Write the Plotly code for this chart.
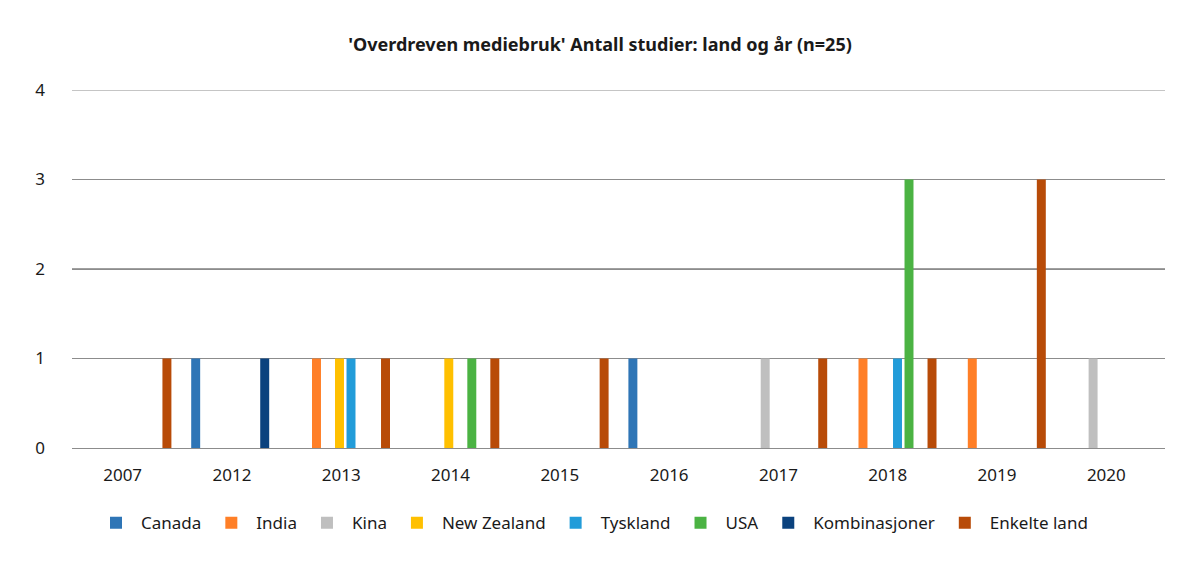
import plotly.graph_objects as go

years = ["2007", "2012", "2013", "2014", "2015", "2016", "2017", "2018", "2019", "2020"]

canada        = [0, 1, 0, 0, 0, 1, 0, 0, 0, 0]
india         = [0, 0, 1, 0, 0, 0, 0, 1, 1, 0]
kina          = [0, 0, 0, 0, 0, 0, 1, 0, 0, 1]
new_zealand   = [0, 0, 1, 1, 0, 0, 0, 0, 0, 0]
tyskland      = [0, 0, 1, 0, 0, 0, 0, 1, 0, 0]
usa           = [0, 0, 0, 1, 0, 0, 0, 3, 0, 0]
kombinasjoner = [0, 1, 0, 0, 0, 0, 0, 0, 0, 0]
enkelte_land  = [1, 0, 1, 1, 1, 0, 1, 1, 3, 0]

series = [
    ("Canada", canada, "#2E75B6"),
    ("India", india, "#FF7F27"),
    ("Kina", kina, "#BFBFBF"),
    ("New Zealand", new_zealand, "#FFC000"),
    ("Tyskland", tyskland, "#229CD9"),
    ("USA", usa, "#4BB343"),
    ("Kombinasjoner", kombinasjoner, "#0B427E"),
    ("Enkelte land", enkelte_land, "#B84B08"),
]

FONT = "Noto Sans"

fig = go.Figure()
for name, vals, color in series:
    fig.add_trace(go.Bar(
        name=name, x=years, y=[v if v else None for v in vals],
        marker=dict(color=color, line=dict(width=0)),
    ))

fig.add_hline(y=2, line=dict(color="#404040", width=1), layer="below")
fig.add_hline(y=4, line=dict(color="#8c8c8c", width=1), layer="below")

fig.update_layout(
    width=1200, height=569,
    barmode="group", bargap=0.158, bargroupgap=0.22,
    plot_bgcolor="white", paper_bgcolor="white",
    margin=dict(l=64, r=43, t=82, b=129, autoexpand=False),
    font=dict(family=FONT, size=17, color="#1a1a1a"),
    title=dict(
        text="<b>'Overdreven mediebruk' Antall studier: land og år (n=25)</b>",
        x=592 / 1200, xref="container", xanchor="center",
        y=1 - 37 / 569, yref="container", yanchor="middle",
        font=dict(family=FONT, size=18, color="#1a1a1a"),
    ),
    legend=dict(
        orientation="h", x=(584 - 64) / 1093, xanchor="center",
        y=-0.21, yanchor="middle",
        font=dict(family=FONT, size=17, color="#1a1a1a"),
        traceorder="normal", itemwidth=40,
    ),
    xaxis=dict(
        type="category", showgrid=False, showline=False, zeroline=False,
        ticks="", ticklabelstandoff=15, ticklabelshift=-4, tickangle=0,
    ),
    yaxis=dict(
        range=[0, 4], tickvals=[0, 1, 2, 3, 4], showgrid=True,
        gridcolor="#8c8c8c", gridwidth=1, zeroline=True, zerolinecolor="#8c8c8c",
        zerolinewidth=1, showline=False, ticks="", ticklabelstandoff=26,
    ),
)

fig.write_html("out.html")
